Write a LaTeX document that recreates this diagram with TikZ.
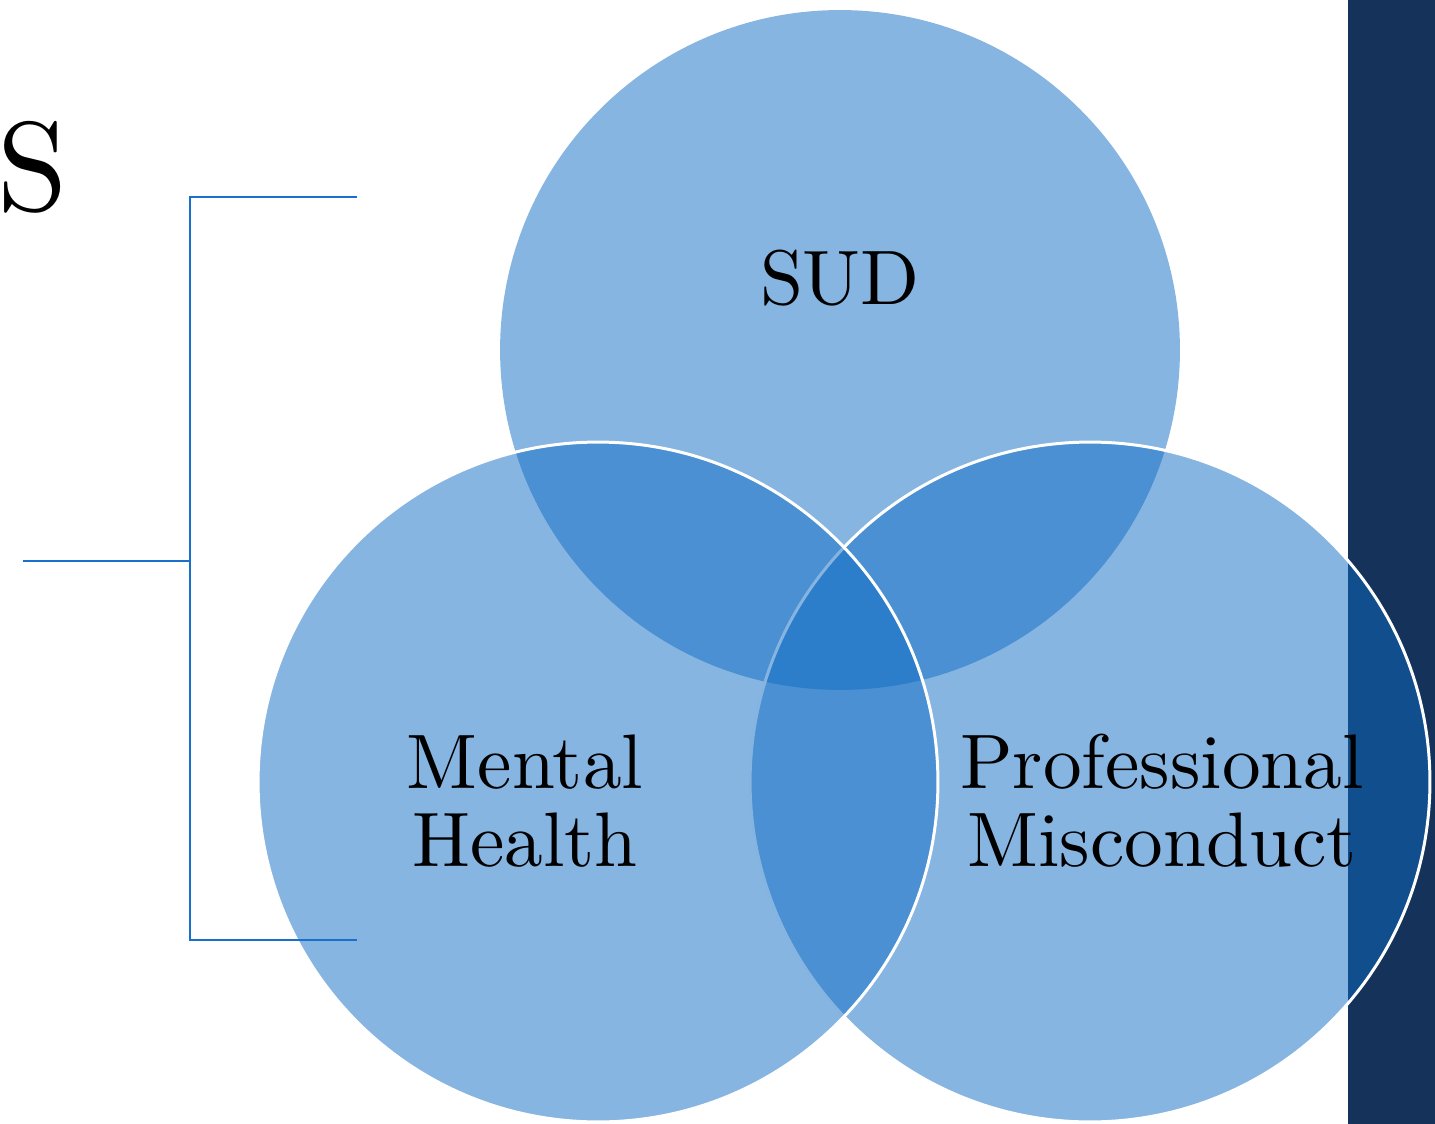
\documentclass[tikz,border=0pt]{standalone}
\usepackage{fontspec}
\setmainfont{lmroman10-regular.otf}
\usepackage{tikz}
\usetikzlibrary{shapes.geometric}

\definecolor{vennblue}{RGB}{15,107,195}
\definecolor{barnavy}{RGB}{20,50,90}
\definecolor{bracketblue}{RGB}{25,112,204}

\begin{document}
\begin{tikzpicture}[x=0.02cm,y=-0.02cm,semithick]
\tikzstyle{every node}=[inner sep=0pt,font=\fontsize{44}{44.4}\selectfont]
\tikzstyle{venn}=[circle,minimum size=13.6cm,fill=vennblue,fill opacity=0.5]
\tikzstyle{rim}=[draw=white,line width=1.7pt]
\tikzstyle{bracket}=[draw=bracketblue,line width=1.1pt]
\useasboundingbox (0,0) rectangle (1435,1124);

% dark band on the right
\fill [barnavy] (1348,0) rectangle (1435,1124);

% circles
\node [venn] (sud) at (840,350) {};
\node [venn,rim] (pm) at (1090,782) {};
\node [venn,rim] (mh) at (598,782) {};

% labels
\node [anchor=base] (sudtxt) at (840,305) {SUD};
\node [align=center] (mhtxt) at (525,801) {Mental\\Health};
\node [align=center] (pmtxt) at (1162,801) {Professional\\Misconduct};

% bracket
\node [anchor=base west,font=\fontsize{72}{72}\selectfont] (s) at (-3,211) {S};
\coordinate (top) at (357,197);
\coordinate (bot) at (357,940);
\coordinate (mid) at (23,561);
\coordinate (join) at (190,561);
\draw [bracket] (top) -| (join) |- (bot);
\draw [bracket] (mid) -- (join);

\end{tikzpicture}
\end{document}
